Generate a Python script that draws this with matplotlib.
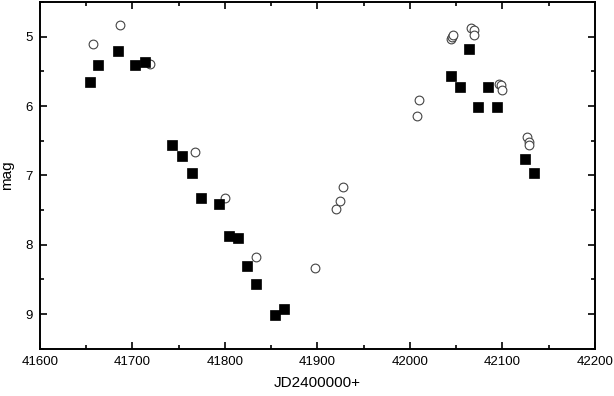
import matplotlib
matplotlib.use("Agg")
import matplotlib.pyplot as plt
from matplotlib.ticker import MultipleLocator

plt.rcParams['font.family'] = ['Liberation Sans', 'DejaVu Sans']

# filled squares
sq_jd = [41654, 41663, 41684, 41703, 41714, 41743, 41754, 41764, 41774, 41794,
         41804, 41814, 41824, 41834, 41854, 41864,
         42044, 42054, 42064, 42074, 42084, 42094, 42124, 42134]
sq_mag = [5.66, 5.41, 5.21, 5.41, 5.36, 6.56, 6.72, 6.97, 7.32, 7.41,
          7.88, 7.90, 8.30, 8.56, 9.01, 8.92,
          5.56, 5.72, 5.18, 6.02, 5.72, 6.02, 6.77, 6.97]

# open circles
ci_jd = [41657, 41687, 41719, 41768, 41800, 41834, 41897, 41920, 41924, 41928,
         42008, 42010, 42044, 42045, 42046, 42066, 42069, 42069,
         42096, 42098, 42100, 42127, 42129, 42129]
ci_mag = [5.10, 4.83, 5.40, 6.66, 7.32, 8.17, 8.33, 7.49, 7.37, 7.17,
          6.15, 5.92, 5.03, 5.00, 4.98, 4.87, 4.90, 4.97,
          5.68, 5.70, 5.77, 6.45, 6.52, 6.56]

fig = plt.figure(figsize=(6.14, 3.96), dpi=100)
ax = fig.add_axes([0.065, 0.119, 0.904, 0.876])

ax.plot(ci_jd, ci_mag, 'o', ms=6.3, mfc='white', mec='#444444', mew=0.8)
ax.plot(sq_jd, sq_mag, 's', ms=7.2, mfc='black', mec='black', mew=0.5)

ax.set_xlim(41600, 42200)
ax.set_ylim(9.5, 4.5)
ax.xaxis.set_major_locator(MultipleLocator(100))
ax.xaxis.set_minor_locator(MultipleLocator(50))
ax.yaxis.set_major_locator(MultipleLocator(1))
ax.yaxis.set_minor_locator(MultipleLocator(0.5))

ax.tick_params(which='both', direction='in', top=True, right=True,
               labelsize=9.5, width=1.2)
ax.tick_params(which='major', length=5, pad=5)
ax.tick_params(which='minor', length=3)
for s in ax.spines.values():
    s.set_linewidth(1.4)

ax.set_xlabel('JD2400000+', fontsize=11, labelpad=6)
ax.set_ylabel('mag', fontsize=11, labelpad=8)

fig.savefig('out.png', dpi=100)
